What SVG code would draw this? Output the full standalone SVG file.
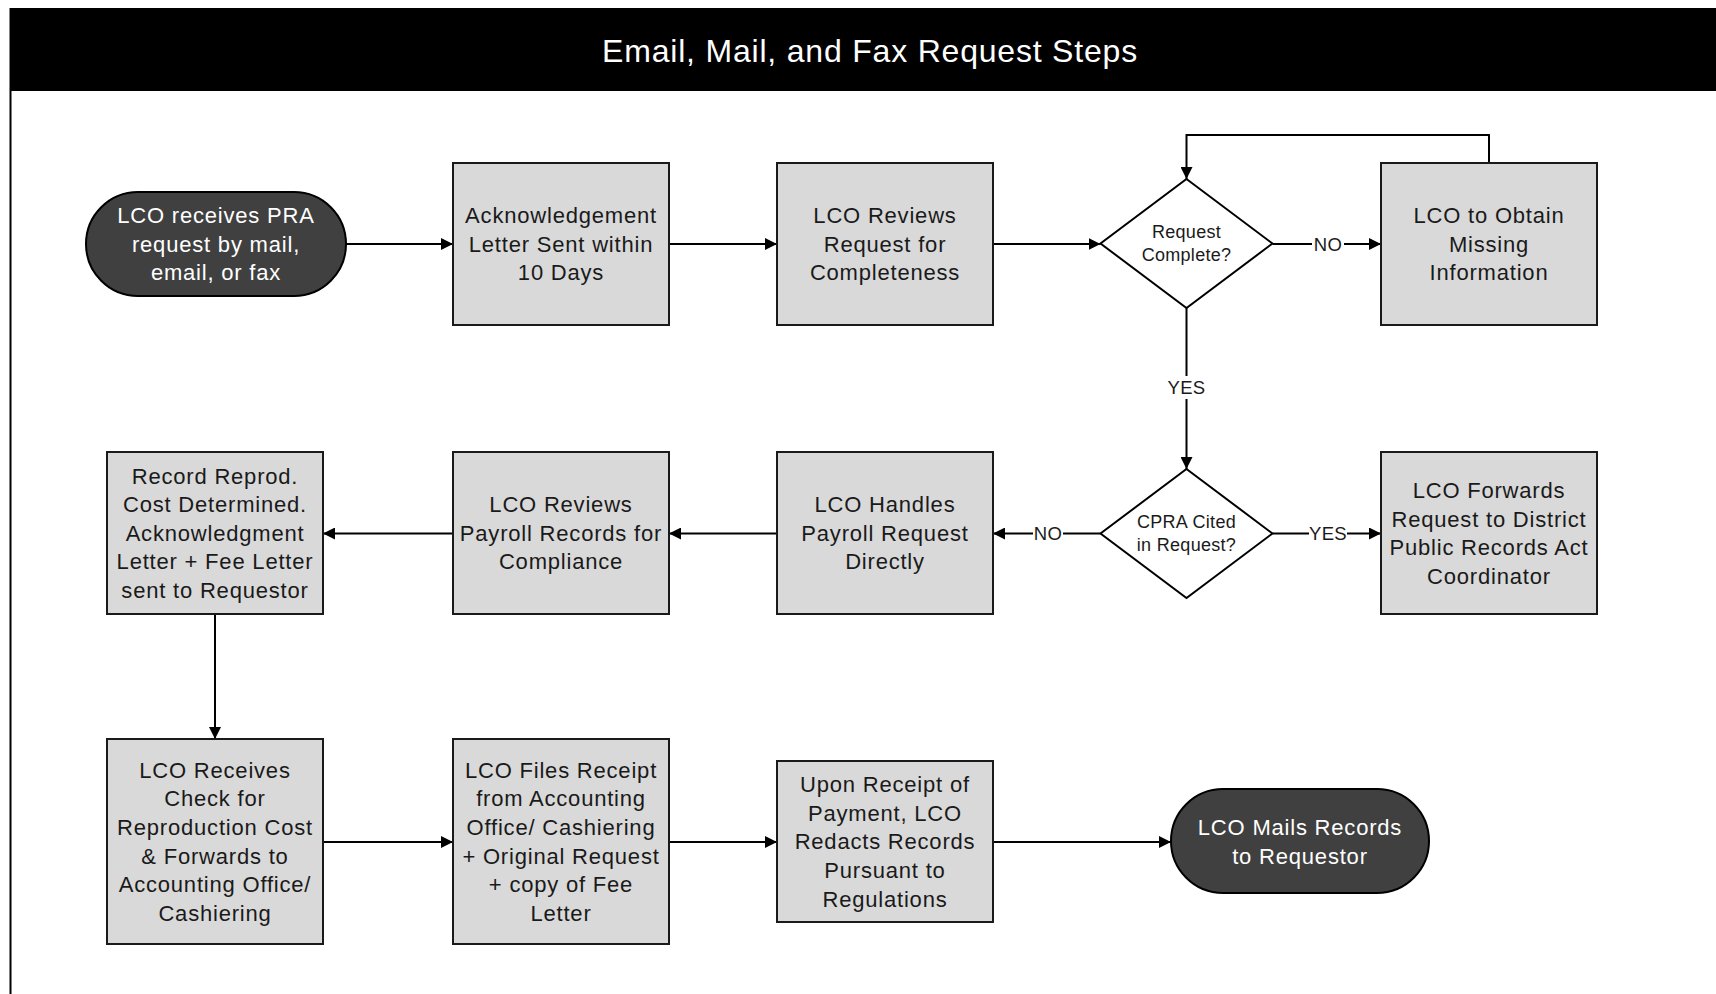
<svg xmlns="http://www.w3.org/2000/svg" width="1716" height="994" viewBox="0 0 1716 994">
<defs>
<marker id="arr" markerUnits="userSpaceOnUse" markerWidth="12" markerHeight="12" refX="12" refY="6" orient="auto">
<path d="M0,0 L12,6 L0,12 z" fill="#000"/>
</marker>
<style>
.box{fill:#d9d9d9;stroke:#1a1a1a;stroke-width:2}
.term{fill:#404040;stroke:#000;stroke-width:2}
.dia{fill:#fff;stroke:#000;stroke-width:2}
.t{font-family:"Liberation Sans",Arial,sans-serif;font-size:22px;letter-spacing:0.8px;fill:#1a1a1a;text-anchor:middle}
.tw{font-family:"Liberation Sans",Arial,sans-serif;font-size:22px;letter-spacing:0.8px;fill:#fff;text-anchor:middle}
.td{font-family:"Liberation Sans",Arial,sans-serif;font-size:18px;letter-spacing:0.3px;fill:#1a1a1a;text-anchor:middle}
.lbl{font-family:"Liberation Sans",Arial,sans-serif;font-size:18.5px;letter-spacing:0.3px;fill:#1a1a1a;text-anchor:middle}
.c{fill:none;stroke:#000;stroke-width:2}
</style>
</defs>
<rect x="0" y="0" width="1716" height="994" fill="#fff"/>
<g id="frame">
<rect x="10.5" y="9" width="1730" height="1000" fill="#fff" stroke="#000" stroke-width="2"/>
<rect x="10.5" y="9" width="1730" height="82" fill="#000"/>
<text x="870" y="62" font-family="'Liberation Sans',Arial,sans-serif" font-size="32" letter-spacing="0.8" fill="#fff" text-anchor="middle">Email, Mail, and Fax Request Steps</text>
</g>
<g id="connectors">
<path class="c" d="M346,244 H453" marker-end="url(#arr)"/>
<path class="c" d="M669,244 H777" marker-end="url(#arr)"/>
<path class="c" d="M993,244 H1100.5" marker-end="url(#arr)"/>
<path class="c" d="M1272.5,244 H1312 M1344,244 H1381" marker-end="url(#arr)"/>
<path class="c" d="M1489,163 V135 H1186.5 V179" marker-end="url(#arr)"/>
<path class="c" d="M1186.5,308 V376 M1186.5,399 V469" marker-end="url(#arr)"/>
<path class="c" d="M1100.5,533.5 H1063 M1033,533.5 H993" marker-end="url(#arr)"/>
<path class="c" d="M1272.5,533.5 H1309 M1347,533.5 H1381" marker-end="url(#arr)"/>
<path class="c" d="M777,533.5 H669" marker-end="url(#arr)"/>
<path class="c" d="M453,533.5 H323" marker-end="url(#arr)"/>
<path class="c" d="M215,614 V739" marker-end="url(#arr)"/>
<path class="c" d="M323,842 H453" marker-end="url(#arr)"/>
<path class="c" d="M669,842 H777" marker-end="url(#arr)"/>
<path class="c" d="M993,842 H1171" marker-end="url(#arr)"/>
<text class="lbl" x="1328" y="250.5">NO</text>
<text class="lbl" x="1186.5" y="394">YES</text>
<text class="lbl" x="1048" y="540">NO</text>
<text class="lbl" x="1328" y="540">YES</text>
</g>
<g id="start">
<rect class="term" x="86" y="192" width="260" height="104" rx="52" ry="52"/>
<text class="tw" x="216" y="223.2">LCO receives PRA</text>
<text class="tw" x="216" y="251.8">request by mail,</text>
<text class="tw" x="216" y="280.4">email, or fax</text>
</g>
<g id="ack">
<rect class="box" x="453" y="163" width="216" height="162"/>
<text class="t" x="561" y="223.2">Acknowledgement</text>
<text class="t" x="561" y="251.8">Letter Sent within</text>
<text class="t" x="561" y="280.4">10 Days</text>
</g>
<g id="reviews">
<rect class="box" x="777" y="163" width="216" height="162"/>
<text class="t" x="885" y="223.2">LCO Reviews</text>
<text class="t" x="885" y="251.8">Request for</text>
<text class="t" x="885" y="280.4">Completeness</text>
</g>
<g id="complete">
<polygon class="dia" points="1186.5,179 1272.5,243.5 1186.5,308 1100.5,243.5"/>
<text class="td" x="1186.5" y="238">Request</text>
<text class="td" x="1186.5" y="260.5">Complete?</text>
</g>
<g id="obtain">
<rect class="box" x="1381" y="163" width="216" height="162"/>
<text class="t" x="1489" y="223.2">LCO to Obtain</text>
<text class="t" x="1489" y="251.8">Missing</text>
<text class="t" x="1489" y="280.4">Information</text>
</g>
<g id="record">
<rect class="box" x="107" y="452" width="216" height="162"/>
<text class="t" x="215" y="483.6">Record Reprod.</text>
<text class="t" x="215" y="512.2">Cost Determined.</text>
<text class="t" x="215" y="540.8">Acknowledgment</text>
<text class="t" x="215" y="569.4">Letter + Fee Letter</text>
<text class="t" x="215" y="598">sent to Requestor</text>
</g>
<g id="payroll">
<rect class="box" x="453" y="452" width="216" height="162"/>
<text class="t" x="561" y="512.2">LCO Reviews</text>
<text class="t" x="561" y="540.8">Payroll Records for</text>
<text class="t" x="561" y="569.4">Compliance</text>
</g>
<g id="handles">
<rect class="box" x="777" y="452" width="216" height="162"/>
<text class="t" x="885" y="512.2">LCO Handles</text>
<text class="t" x="885" y="540.8">Payroll Request</text>
<text class="t" x="885" y="569.4">Directly</text>
</g>
<g id="cpra">
<polygon class="dia" points="1186.5,469 1272.5,533.5 1186.5,598 1100.5,533.5"/>
<text class="td" x="1186.5" y="528">CPRA Cited</text>
<text class="td" x="1186.5" y="550.5">in Request?</text>
</g>
<g id="forwards">
<rect class="box" x="1381" y="452" width="216" height="162"/>
<text class="t" x="1489" y="497.9">LCO Forwards</text>
<text class="t" x="1489" y="526.5">Request to District</text>
<text class="t" x="1489" y="555.1">Public Records Act</text>
<text class="t" x="1489" y="583.7">Coordinator</text>
</g>
<g id="receives">
<rect class="box" x="107" y="739" width="216" height="205"/>
<text class="t" x="215" y="777.8">LCO Receives</text>
<text class="t" x="215" y="806.4">Check for</text>
<text class="t" x="215" y="835">Reproduction Cost</text>
<text class="t" x="215" y="863.6">&amp; Forwards to</text>
<text class="t" x="215" y="892.2">Accounting Office/</text>
<text class="t" x="215" y="920.8">Cashiering</text>
</g>
<g id="files">
<rect class="box" x="453" y="739" width="216" height="205"/>
<text class="t" x="561" y="777.8">LCO Files Receipt</text>
<text class="t" x="561" y="806.4">from Accounting</text>
<text class="t" x="561" y="835">Office/ Cashiering</text>
<text class="t" x="561" y="863.6">+ Original Request</text>
<text class="t" x="561" y="892.2">+ copy of Fee</text>
<text class="t" x="561" y="920.8">Letter</text>
</g>
<g id="upon">
<rect class="box" x="777" y="761" width="216" height="161"/>
<text class="t" x="885" y="792.1">Upon Receipt of</text>
<text class="t" x="885" y="820.7">Payment, LCO</text>
<text class="t" x="885" y="849.3">Redacts Records</text>
<text class="t" x="885" y="877.9">Pursuant to</text>
<text class="t" x="885" y="906.5">Regulations</text>
</g>
<g id="end">
<rect class="term" x="1171" y="789" width="258" height="104" rx="52" ry="52"/>
<text class="tw" x="1300" y="835">LCO Mails Records</text>
<text class="tw" x="1300" y="863.6">to Requestor</text>
</g>
</svg>
